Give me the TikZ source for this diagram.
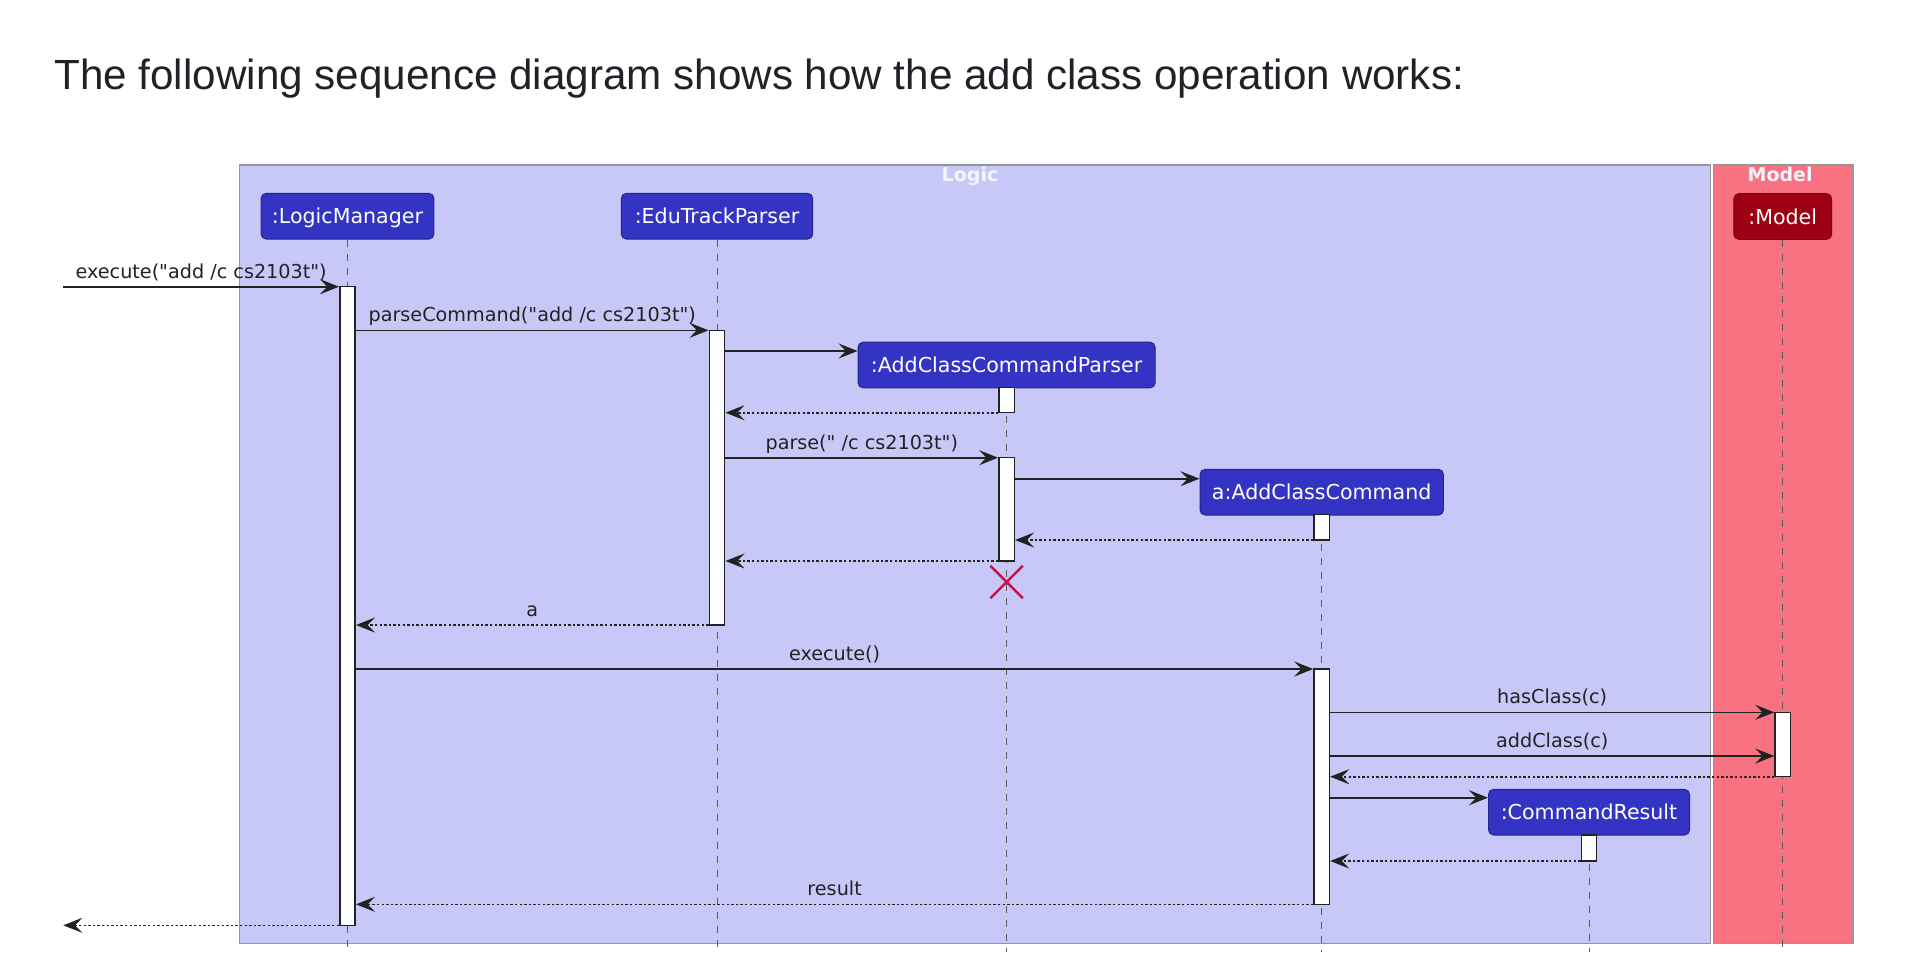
\documentclass[tikz,border=0pt]{standalone}
\usepackage{fontspec}
\setmainfont{DejaVu Sans}[Ligatures=TeXOff]
\newfontfamily\titlefont{Liberation Sans}
\usetikzlibrary{arrows.meta,fit,calc,shapes.misc}
\newcommand{\dq}{\symbol{34}}

\definecolor{logicfill}{RGB}{200,200,248}
\definecolor{modelfill}{RGB}{249,114,130}
\definecolor{headblue}{RGB}{51,51,196}
\definecolor{headred}{RGB}{158,0,19}
\definecolor{framec}{RGB}{150,150,150}
\definecolor{linec}{RGB}{34,34,34}
\definecolor{lifec}{RGB}{90,90,90}
\definecolor{xred}{RGB}{200,20,72}
\definecolor{titlec}{RGB}{31,35,40}
\definecolor{grouplbl}{RGB}{245,245,255}

\begin{document}
\begin{tikzpicture}[x=0.5pt,y=-0.5pt,
  frame/.style={rectangle, draw=framec, line width=0.75pt, inner sep=0pt},
  grouplabel/.style={anchor=base, inner sep=0pt, text=grouplbl, font=\bfseries\fontsize{9.5pt}{11pt}\selectfont},
  head/.style={rectangle, rounded corners=2.5pt, fill=headblue, draw=headblue!70!black, line width=0.5pt,
    text=white, font=\fontsize{10.3pt}{12pt}\selectfont, inner sep=0pt, minimum height=22.8pt,
    text height=7.5pt, text depth=0pt},
  redhead/.style={head, fill=headred, draw=headred!70!black},
  life/.style={draw=lifec, line width=0.5pt, dash pattern=on 3.5pt off 3.5pt},
  bar/.style={rectangle, draw=linec, fill=white, line width=0.75pt, inner sep=0pt},
  msg/.style={draw=linec, line width=0.8pt, -{Stealth[length=9.5pt, width=7.5pt, inset=3.6pt]}},
  ret/.style={msg, dash pattern=on 1.2pt off 1.1pt},
  lbl/.style={anchor=base, inner sep=0pt, yshift=4.2pt, text=linec, font=\fontsize{9.6pt}{11pt}\selectfont},
  xmark/.style={cross out, draw=xred, line width=1.2pt, minimum size=15pt, inner sep=0pt}
]
\useasboundingbox (0,0) rectangle (1910,960);
\fill[white] (0,0) rectangle (1910,960);

% title
\node[anchor=base west, inner sep=0pt, text=titlec, font=\titlefont\fontsize{21.1pt}{25pt}\selectfont] (title) at (54,89)
  {The following sequence diagram shows how the add class operation works:};

% frames
\node[frame, fill=logicfill, fit={(239.3,165) (1710.7,943.3)}] (logic) {};
\node[frame, fill=modelfill, fit={(1713.3,165) (1852.9,943.3)}] (model) {};
\node[grouplabel] (logiclbl) at ($(logic.north)+(-5,17.7)$) {Logic};
\node[grouplabel] (modellbl) at ($(model.north)+(-3,17.7)$) {Model};

% coordinates
\coordinate (bottom) at (0,952);
\coordinate (m1) at (0,286.7);
\coordinate (m2) at (0,330.3);
\coordinate (m3) at (0,351);
\coordinate (m4) at (0,412.7);
\coordinate (m5) at (0,457.7);
\coordinate (m6) at (0,478.7);
\coordinate (m7) at (0,540);
\coordinate (m8) at (0,561);
\coordinate (m10) at (0,625);
\coordinate (m11) at (0,669);
\coordinate (m12) at (0,712.3);
\coordinate (m13) at (0,756);
\coordinate (m14) at (0,776.7);
\coordinate (m15) at (0,797.7);
\coordinate (m16) at (0,861);
\coordinate (m17) at (0,904.3);
\coordinate (m18) at (0,925.3);
\coordinate (in1) at (63.3,286.7);
\coordinate (out18) at (63.3,925.3);

% participants
\node[head, minimum width=86.4pt] (lm) at (347.5,216.2) {:LogicManager};
\node[head, minimum width=95.7pt] (etp) at (717,216.2) {:EduTrackParser};
\node[head, minimum width=148.5pt] (accp) at (1006.6,365) {:AddClassCommandParser};
\node[head, minimum width=121.7pt] (acc) at (1321.7,492.2) {a:AddClassCommand};
\node[head, minimum width=100.5pt] (cr) at (1589,812.2) {:CommandResult};
\node[redhead, minimum width=48.9pt] (mdl) at (1782.7,216.5) {:Model};

% lifelines
\draw[life] (lm.south) -- (lm.south |- bottom);
\draw[life] (etp.south) -- (etp.south |- bottom);
\draw[life] (accp.south) -- (accp.south |- bottom);
\draw[life] (acc.south) -- (acc.south |- bottom);
\draw[life] (cr.south) -- (cr.south |- bottom);
\draw[life] (mdl.south) -- (mdl.south |- bottom);

% activation bars
\node[bar, fit={(339.8,286.7) (355.2,925.3)}] (lmA) {};
\node[bar, fit={(709.3,330.3) (724.7,625)}] (etpA) {};
\node[bar, fit={(998.9,387.3) (1014.3,412.7)}] (accpA) {};
\node[bar, fit={(998.9,457.7) (1014.3,561)}] (accpB) {};
\node[bar, fit={(1314,514.3) (1329.4,540)}] (accA) {};
\node[bar, fit={(1314,669) (1329.4,904.3)}] (accB) {};
\node[bar, fit={(1775,712.3) (1790.4,776.7)}] (modA) {};
\node[bar, fit={(1581.3,835) (1596.7,861)}] (crA) {};

% messages
\draw[msg] (in1) -- (lmA.west |- m1) node[lbl, midway] {execute(\dq add /c cs2103t\dq)};
\draw[msg] (lmA.east |- m2) -- (etpA.west |- m2) node[lbl, midway] {parseCommand(\dq add /c cs2103t\dq)};
\draw[msg] (etpA.east |- m3) -- (accp.west |- m3);
\draw[ret] (accpA.west |- m4) -- (etpA.east |- m4);
\draw[msg] (etpA.east |- m5) -- (accpB.west |- m5) node[lbl, midway] {parse(\dq\ /c cs2103t\dq)};
\draw[msg] (accpB.east |- m6) -- (acc.west |- m6);
\draw[ret] (accA.west |- m7) -- (accpB.east |- m7);
\draw[ret] (accpB.west |- m8) -- (etpA.east |- m8);
\node[xmark] (destroy) at (1006.6,582) {};
\draw[ret] (etpA.west |- m10) -- (lmA.east |- m10) node[lbl, midway] {a};
\draw[msg] (lmA.east |- m11) -- (accB.west |- m11) node[lbl, midway] {execute()};
\draw[msg] (accB.east |- m12) -- (modA.west |- m12) node[lbl, midway] {hasClass(c)};
\draw[msg] (accB.east |- m13) -- (modA.west |- m13) node[lbl, midway] {addClass(c)};
\draw[ret] (modA.west |- m14) -- (accB.east |- m14);
\draw[msg] (accB.east |- m15) -- (cr.west |- m15);
\draw[ret] (crA.west |- m16) -- (accB.east |- m16);
\draw[ret] (accB.west |- m17) -- (lmA.east |- m17) node[lbl, midway] {result};
\draw[ret] (lmA.west |- m18) -- (out18);
\end{tikzpicture}
\end{document}
